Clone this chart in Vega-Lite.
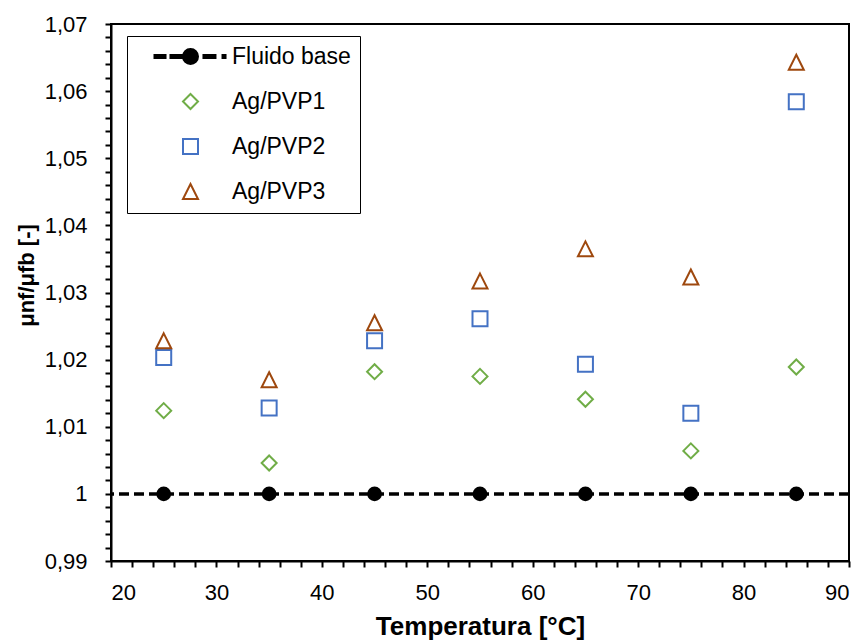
{
  "$schema": "https://vega.github.io/schema/vega-lite/v6.json",
  "width": 738,
  "height": 537,
  "autosize": "none",
  "padding": {"left": 111, "top": 24, "right": 15, "bottom": 82},
  "background": "white",
  "config": {
    "font": "Liberation Sans",
    "view": {"stroke": "black", "strokeWidth": 2},
    "axis": {"grid": false, "domainColor": "black", "tickColor": "black", "labelColor": "black", "titleColor": "black"},
    "locale": {"number": {"decimal": ",", "thousands": ".", "grouping": [3], "currency": ["", " €"]}},
    "legend": {
      "labelFont": "Liberation Sans", "labelFontSize": 23, "labelColor": "black",
      "symbolSize": 225, "symbolStrokeWidth": 2, "labelLimit": 400
    }
  },
  "data": {
    "values": [
      {"T": 25, "r": 1.0, "series": "Fluido base"},
      {"T": 35, "r": 1.0, "series": "Fluido base"},
      {"T": 45, "r": 1.0, "series": "Fluido base"},
      {"T": 55, "r": 1.0, "series": "Fluido base"},
      {"T": 65, "r": 1.0, "series": "Fluido base"},
      {"T": 75, "r": 1.0, "series": "Fluido base"},
      {"T": 85, "r": 1.0, "series": "Fluido base"},
      {"T": 25, "r": 1.0124, "series": "Ag/PVP1"},
      {"T": 35, "r": 1.0046, "series": "Ag/PVP1"},
      {"T": 45, "r": 1.0182, "series": "Ag/PVP1"},
      {"T": 55, "r": 1.0175, "series": "Ag/PVP1"},
      {"T": 65, "r": 1.0141, "series": "Ag/PVP1"},
      {"T": 75, "r": 1.0064, "series": "Ag/PVP1"},
      {"T": 85, "r": 1.0189, "series": "Ag/PVP1"},
      {"T": 25, "r": 1.0203, "series": "Ag/PVP2"},
      {"T": 35, "r": 1.0128, "series": "Ag/PVP2"},
      {"T": 45, "r": 1.0228, "series": "Ag/PVP2"},
      {"T": 55, "r": 1.0261, "series": "Ag/PVP2"},
      {"T": 65, "r": 1.0193, "series": "Ag/PVP2"},
      {"T": 75, "r": 1.0120, "series": "Ag/PVP2"},
      {"T": 85, "r": 1.0584, "series": "Ag/PVP2"},
      {"T": 25, "r": 1.0228, "series": "Ag/PVP3"},
      {"T": 35, "r": 1.0170, "series": "Ag/PVP3"},
      {"T": 45, "r": 1.0255, "series": "Ag/PVP3"},
      {"T": 55, "r": 1.0317, "series": "Ag/PVP3"},
      {"T": 65, "r": 1.0365, "series": "Ag/PVP3"},
      {"T": 75, "r": 1.0323, "series": "Ag/PVP3"},
      {"T": 85, "r": 1.0643, "series": "Ag/PVP3"}
    ]
  },
  "layer": [
    {
      "data": {"values": [{"k": 1}]},
      "mark": {"type": "rule", "color": "black", "strokeWidth": 3.5, "strokeDash": [10, 5]},
      "encoding": {
        "y": {"datum": 1, "type": "quantitative", "scale": {"domain": [0.99, 1.07], "nice": false, "zero": false}}
      }
    },
    {
      "transform": [{"filter": "datum.series === 'Fluido base'"}],
      "mark": {"type": "circle", "size": 216, "color": "black", "opacity": 1},
      "encoding": {
        "x": {"field": "T", "type": "quantitative", "scale": {"domain": [20, 90], "nice": false, "zero": false}},
        "y": {"field": "r", "type": "quantitative", "scale": {"domain": [0.99, 1.07], "nice": false, "zero": false}}
      }
    },
    {
      "mark": {"type": "point", "size": 225, "strokeWidth": 2},
      "encoding": {
        "x": {"field": "T", "type": "quantitative", "scale": {"domain": [20, 90], "nice": false, "zero": false},
          "axis": {"orient": "bottom",
            "values": [20,22,24,26,28,30,32,34,36,38,40,42,44,46,48,50,52,54,56,58,60,62,64,66,68,70,72,74,76,78,80,82,84,86,88,90],
            "tickCount": 200,
            "format": "d",
            "labelOverlap": false,
            "labelExpr": "datum.value % 10 === 0 ? datum.label : ''",
            "tickSize": 6, "tickWidth": 2, "domainWidth": 2,
            "encode": {"ticks": {
              "y": {"value": -6},
              "y2": {"signal": "datum.value % 10 === 0 ? 6 : 0"},
              "strokeWidth": {"signal": "datum.value % 10 === 0 ? 2 : 1.5"}
            }},
            "labelFontSize": 22, "labelPadding": 15, "title": "Temperatura [°C]", "titleFontSize": 26, "titleFontWeight": "bold", "titlePadding": 10}},
        "y": {"field": "r", "type": "quantitative", "scale": {"domain": [0.99, 1.07], "nice": false, "zero": false},
          "axis": {"orient": "left",
            "values": [0.99,0.992,0.994,0.996,0.998,1,1.002,1.004,1.006,1.008,1.01,1.012,1.014,1.016,1.018,1.02,1.022,1.024,1.026,1.028,1.03,1.032,1.034,1.036,1.038,1.04,1.042,1.044,1.046,1.048,1.05,1.052,1.054,1.056,1.058,1.06,1.062,1.064,1.066,1.068,1.07],
            "tickCount": 200,
            "format": ".2~f",
            "labelOverlap": false,
            "labelExpr": "round(datum.value * 1000) % 10 === 0 ? datum.label : ''",
            "tickSize": 6, "tickWidth": 2, "domainWidth": 2,
            "encode": {"ticks": {
              "x": {"value": 6},
              "x2": {"signal": "round(datum.value * 1000) % 10 === 0 ? -6 : 0"},
              "strokeWidth": {"signal": "round(datum.value * 1000) % 10 === 0 ? 2 : 1.5"}
            }},
            "labelFontSize": 22, "labelPadding": 18, "title": "μnf/μfb [-]", "titleFontSize": 22, "titleFontWeight": "bold", "titlePadding": 6, "titleY": 251}},
        "shape": {"field": "series", "type": "nominal",
          "scale": {"domain": ["Fluido base", "Ag/PVP1", "Ag/PVP2", "Ag/PVP3"],
            "range": ["M-1,0A1,1,0,1,0,1,0A1,1,0,1,0,-1,0Z M-4.8,-0.2H-3.33V0.2H-4.8Z M-2.67,-0.2H-0.9V0.2H-2.67Z M1.73,-0.2H3.33V0.2H1.73Z M4.27,-0.2H4.67V0.2H4.27Z",
              "M0,-1L1,0L0,1L-1,0Z", "M-1,-1H1V1H-1Z", "M0,-1L1,1L-1,1Z"]},
          "legend": {"title": null, "orient": "none", "legendX": 16, "legendY": 12, "padding": 9, "strokeColor": "black", "fillColor": "white",
            "rowPadding": 21, "labelOffset": 30, "symbolOffset": 43, "symbolOpacity": 1}},
        "stroke": {"field": "series", "type": "nominal",
          "scale": {"domain": ["Fluido base", "Ag/PVP1", "Ag/PVP2", "Ag/PVP3"], "range": ["black", "#70AD47", "#4472C4", "#9E480E"]},
          "legend": {"title": null}},
        "fill": {"field": "series", "type": "nominal",
          "scale": {"domain": ["Fluido base", "Ag/PVP1", "Ag/PVP2", "Ag/PVP3"], "range": ["black", "transparent", "transparent", "transparent"]},
          "legend": {"title": null}},
        "opacity": {"condition": {"test": "datum.series === 'Fluido base'", "value": 0}, "value": 1}
      }
    }
  ]
}
